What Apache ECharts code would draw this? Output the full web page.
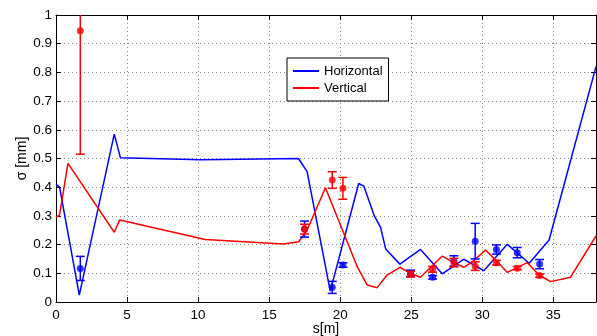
<!DOCTYPE html>
<html>
<head>
<meta charset="utf-8">
<script src="https://cdn.jsdelivr.net/npm/echarts@6/dist/echarts.min.js"></script>
<style>
  html, body { margin: 0; padding: 0; background: #fff; }
  #chart { width: 597px; height: 336px; }
</style>
</head>
<body>
<div id="chart"></div>
<script>
// model curves (s [m], sigma [mm])
const horizS = [0, 0.25, 1.64, 4.1, 4.53, 10.2, 17.06, 17.67, 19.3, 21.3, 21.66, 22.4, 22.84, 23.2, 24.2, 25.65, 27.18, 28.7, 30.1, 31.76, 33.3, 34.7, 38];
const horizY = [0.41, 0.40, 0.024, 0.585, 0.503, 0.496, 0.50, 0.454, 0.038, 0.413, 0.404, 0.30, 0.26, 0.185, 0.132, 0.183, 0.098, 0.149, 0.109, 0.201, 0.135, 0.216, 0.82];
const vertS = [0, 0.25, 0.84, 4.1, 4.48, 10.5, 16.03, 17.08, 17.67, 18.96, 21.2, 21.9, 22.6, 23.3, 24.2, 24.95, 25.65, 27.18, 27.9, 28.7, 29.3, 30.23, 30.94, 31.76, 33.17, 33.99, 34.8, 36.2, 38];
const vertY = [0.295, 0.303, 0.483, 0.243, 0.286, 0.218, 0.202, 0.21, 0.25, 0.398, 0.123, 0.059, 0.05, 0.094, 0.121, 0.10, 0.086, 0.16, 0.14, 0.121, 0.14, 0.181, 0.146, 0.103, 0.137, 0.094, 0.071, 0.086, 0.23];

// measurements
const measS = [1.71, 17.49, 19.44, 20.19, 24.95, 26.5, 28.0, 29.5, 30.99, 32.46, 34.03];
const measH = [0.117, 0.254, 0.051, 0.129, 0.10, 0.086, 0.143, 0.212, 0.183, 0.172, 0.132];
const errH  = [0.042, 0.028, 0.021, 0.008, 0.011, 0.006, 0.018, 0.062, 0.016, 0.018, 0.016];
const measV = [0.945, 0.254, 0.425, 0.396, 0.097, 0.114, 0.137, 0.125, 0.137, 0.118, 0.092];
const errV  = [0.43, 0.017, 0.029, 0.038, 0.01, 0.01, 0.015, 0.015, 0.008, 0.006, 0.006];

const BLUE = '#0000ff';
const RED = '#ff0000';

const pairs = (xs, ys) => xs.map((x, i) => [x, ys[i]]);
const bars = (xs, ys, es) => xs.map((x, i) => [x, ys[i] - es[i], ys[i] + es[i]]);

function errorBar(color) {
    return function (params, api) {
        const lo = api.coord([api.value(0), api.value(1)]);
        const hi = api.coord([api.value(0), api.value(2)]);
        const w = 4.5;
        const style = { stroke: color, lineWidth: 1.5 };
        return {
            type: 'group',
            children: [
                { type: 'line', shape: { x1: lo[0], y1: lo[1], x2: hi[0], y2: hi[1] }, style },
                { type: 'line', shape: { x1: lo[0] - w, y1: lo[1], x2: lo[0] + w, y2: lo[1] }, style },
                { type: 'line', shape: { x1: hi[0] - w, y1: hi[1], x2: hi[0] + w, y2: hi[1] }, style }
            ]
        };
    };
}

const chart = echarts.init(document.getElementById('chart'));
const font = 'Liberation Sans, Arial, sans-serif';
const dotted = { show: true, lineStyle: { color: '#888', width: 1, type: [1, 3] } };
const frame = { show: true, onZero: false, lineStyle: { color: '#000', width: 1 } };
const tickIn = { show: true, inside: true, length: 5, lineStyle: { color: '#000' } };

chart.setOption({
    animation: false,
    backgroundColor: '#fff',
    textStyle: { fontFamily: font },
    grid: { left: 56, right: 1, top: 15, bottom: 34, containLabel: false, outerBoundsMode: 'none' },
    legend: {
        data: ['Horizontal', 'Vertical'],
        orient: 'vertical',
        left: 287,
        top: 58,
        padding: [6, 6, 6, 6],
        itemGap: 3,
        itemWidth: 26,
        itemHeight: 2,
        icon: 'rect',
        borderColor: '#000',
        borderWidth: 1,
        borderRadius: 0,
        backgroundColor: '#fff',
        textStyle: { fontSize: 13, color: '#000', fontFamily: font, lineHeight: 14 }
    },
    xAxis: [
        {
            type: 'value', min: 0, max: 38, interval: 5,
            name: 's[m]', nameLocation: 'middle', nameGap: 20, nameMoveOverlap: false,
            nameTextStyle: { fontSize: 14, color: '#000' },
            axisLine: frame, axisTick: tickIn, splitLine: dotted,
            axisLabel: { fontSize: 13.5, color: '#000', margin: 6, showMaxLabel: false }
        },
        {
            type: 'value', min: 0, max: 38, interval: 5, position: 'top',
            axisLine: frame, axisTick: tickIn, splitLine: { show: false },
            axisLabel: { show: false }
        }
    ],
    yAxis: [
        {
            type: 'value', min: 0, max: 1, interval: 0.1,
            name: 'σ [mm]', nameLocation: 'middle', nameGap: 27, nameRotate: 90, nameMoveOverlap: false,
            nameTextStyle: { fontSize: 14, color: '#000' },
            axisLine: frame, axisTick: tickIn, splitLine: dotted,
            axisLabel: { fontSize: 13.5, color: '#000', margin: 4 }
        },
        {
            type: 'value', min: 0, max: 1, interval: 0.1, position: 'right',
            axisLine: frame, axisTick: tickIn, splitLine: { show: false },
            axisLabel: { show: false }
        }
    ],
    series: [
        {
            name: 'Horizontal', type: 'line', data: pairs(horizS, horizY),
            symbol: 'none', lineStyle: { color: BLUE, width: 1.5 }, itemStyle: { color: BLUE }, z: 2
        },
        {
            name: 'Vertical', type: 'line', data: pairs(vertS, vertY),
            symbol: 'none', lineStyle: { color: RED, width: 1.5 }, itemStyle: { color: RED }, z: 2
        },
        {
            name: 'H err', type: 'custom', data: bars(measS, measH, errH),
            renderItem: errorBar(BLUE), clip: true, z: 3
        },
        {
            name: 'H meas', type: 'scatter', data: pairs(measS, measH),
            symbol: 'circle', symbolSize: 7, itemStyle: { color: BLUE }, z: 4
        },
        {
            name: 'V err', type: 'custom', data: bars(measS, measV, errV),
            renderItem: errorBar(RED), clip: true, z: 5
        },
        {
            name: 'V meas', type: 'scatter', data: pairs(measS, measV),
            symbol: 'circle', symbolSize: 7, itemStyle: { color: RED }, z: 6
        }
    ]
});
</script>
</body>
</html>
